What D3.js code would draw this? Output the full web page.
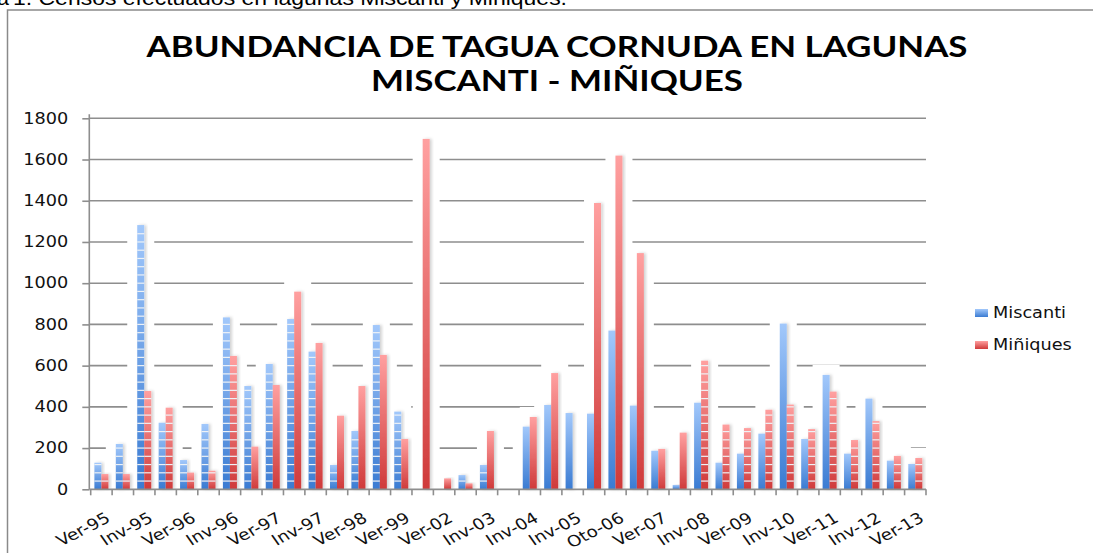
<!DOCTYPE html>
<html>
<head>
<meta charset="utf-8">
<script src="https://cdn.jsdelivr.net/npm/d3@7"></script>
<style>
    body { margin: 0; background: #fff; }
    svg { display: block; }
</style>
</head>
<body>
<div id="chart"></div>
<script>
// categories (only every other one gets a label on the axis)
const categories = ["Ver-95", "Oto-95", "Inv-95", "Pri-95", "Ver-96", "Oto-96", "Inv-96", "Pri-96",
    "Ver-97", "Oto-97", "Inv-97", "Pri-97", "Ver-98", "Inv-98", "Ver-99", "Inv-99", "Ver-02", "Inv-02",
    "Inv-03", "Ver-04", "Inv-04", "Ver-05", "Inv-05", "Ver-06", "Oto-06", "Inv-06", "Ver-07", "Inv-07",
    "Inv-08", "Pri-08", "Ver-09", "Inv-09", "Inv-10", "Pri-10", "Ver-11", "Inv-11", "Inv-12", "Pri-12", "Ver-13"];

const miscanti = [129, 220, 1282, 323, 142, 317, 834, 501, 608, 826, 668, 118, 283, 797, 377, 0, 0, 69,
    118, 0, 304, 409, 370, 367, 770, 406, 187, 21, 420, 129, 173, 270, 804, 244, 555, 173, 440, 139, 123];

const miniques = [74, 74, 477, 396, 81, 90, 647, 207, 506, 959, 710, 357, 501, 652, 244, 1700, 53, 29,
    283, 0, 351, 564, 0, 1389, 1619, 1146, 196, 275, 624, 314, 297, 386, 411, 292, 474, 239, 331, 162, 152];

const seriesNames = ["Miscanti", "Miñiques"];
const yTicks = [0, 200, 400, 600, 800, 1000, 1200, 1400, 1600, 1800];

//set svg size
let w = 1093;
let h = 553;
let plotLeft = 90.7, plotRight = 926, plotTop = 118.3, plotBottom = 489.3;
// the original picture is a bit stretched sideways, so texts get widened
let stretch = 1.18;

let svg = d3.select("#chart")
            .append("svg")
            .attr("width", w)
            .attr("height", h);

let defs = svg.append("defs");

let grads = [["gradBlue", "#a2c8fb", "#3a7bd2"], ["gradRed", "#ffa0a0", "#cf3a3a"]];
grads.forEach(g => {
    let lg = defs.append("linearGradient")
                .attr("id", g[0])
                .attr("x1", 0).attr("y1", 0)
                .attr("x2", 0).attr("y2", 1);
    lg.append("stop").attr("offset", "0%").attr("stop-color", g[1]);
    lg.append("stop").attr("offset", "100%").attr("stop-color", g[2]);
});

let shadow = defs.append("filter")
                .attr("id", "barShadow")
                .attr("x", "-50%").attr("y", "-10%")
                .attr("width", "200%").attr("height", "120%");
shadow.append("feDropShadow")
        .attr("dx", 2).attr("dy", 0)
        .attr("stdDeviation", 1.5)
        .attr("flood-color", "#000")
        .attr("flood-opacity", 0.18);

// caption line cut at the top of the picture
svg.append("text")
    .attr("x", 9)
    .attr("y", 5)
    .attr("text-anchor", "end")
    .style("font-family", "Liberation Sans, Arial, sans-serif")
    .style("font-size", "21px")
    .text("Figura");
svg.append("text")
    .attr("x", 13)
    .attr("y", 5)
    .attr("textLength", 554)
    .attr("lengthAdjust", "spacingAndGlyphs")
    .style("font-family", "Liberation Sans, Arial, sans-serif")
    .style("font-size", "21px")
    .text("1. Censos efectuados en lagunas Miscanti y Miñiques.");

// chart frame
svg.append("rect")
    .attr("x", 7.5)
    .attr("y", 10)
    .attr("width", 1200)
    .attr("height", 700)
    .attr("fill", "none")
    .attr("stroke", "#8a8a8a")
    .attr("stroke-width", 1.5);

//scales
let xScale = d3.scaleBand()
                .domain(categories)
                .range([plotLeft, plotRight]);

let xSub = d3.scaleBand()
                .domain(seriesNames)
                .range([3.7, xScale.bandwidth() - 3.7]);

let yScale = d3.scaleLinear()
                .domain([0, 1800])
                .range([plotBottom, plotTop]);

let color = d3.scaleOrdinal()
                .domain(seriesNames)
                .range(["url(#gradBlue)", "url(#gradRed)"]);

//gridlines
svg.append("g")
    .selectAll("line")
    .data(yTicks.slice(1))
    .enter()
    .append("line")
    .attr("x1", plotLeft - 1.4)
    .attr("x2", plotRight)
    .attr("y1", d => yScale(d))
    .attr("y2", d => yScale(d))
    .attr("stroke", "#8e8e8e")
    .attr("stroke-width", 1.6);

let bars = [];
categories.forEach((c, i) => {
    bars.push({cat: c, name: seriesNames[0], value: miscanti[i], striped: i <= 18});
    bars.push({cat: c, name: seriesNames[1], value: miniques[i], striped: i <= 6 || i >= 28});
});
bars = bars.filter(d => d.value > 0);

// white glow around bars cuts the gridlines
svg.append("g")
    .selectAll("rect")
    .data(bars)
    .enter()
    .append("rect")
    .attr("x", d => xScale(d.cat) + xSub(d.name) - 10)
    .attr("y", d => yScale(d.value) - 10)
    .attr("width", xSub.bandwidth() + 20)
    .attr("height", d => plotBottom - yScale(d.value) + 10)
    .attr("fill", "#fff");

//bars
svg.append("g")
    .selectAll("rect")
    .data(bars)
    .enter()
    .append("rect")
    .attr("x", d => xScale(d.cat) + xSub(d.name))
    .attr("y", d => yScale(d.value))
    .attr("width", xSub.bandwidth())
    .attr("height", d => plotBottom - yScale(d.value))
    .attr("fill", d => color(d.name))
    .attr("filter", "url(#barShadow)");

// white stripes on some of the bars
let stripes = [];
bars.filter(d => d.striped).forEach(d => {
    for (let v = 40; v < d.value - 8; v += 40) {
        stripes.push({cat: d.cat, name: d.name, v: v});
    }
});
svg.append("g")
    .selectAll("line")
    .data(stripes)
    .enter()
    .append("line")
    .attr("x1", d => xScale(d.cat) + xSub(d.name))
    .attr("x2", d => xScale(d.cat) + xSub(d.name) + xSub.bandwidth())
    .attr("y1", d => yScale(d.v))
    .attr("y2", d => yScale(d.v))
    .attr("stroke", "#eef2f6")
    .attr("stroke-width", 1.2);

//y axis
let yAxis = d3.axisLeft(yScale)
                .tickValues(yTicks)
                .tickSize(7)
                .tickPadding(14)
                .tickFormat(d3.format("d"));

let gy = svg.append("g")
            .attr("transform", `translate(${plotLeft - 1.4}, 0)`)
            .call(yAxis);
gy.select(".domain").attr("stroke", "#8e8e8e").attr("stroke-width", 1.6)
    .attr("d", `M0,${plotTop - 4}V${plotBottom}`);
gy.selectAll(".tick line").attr("stroke", "#8e8e8e").attr("stroke-width", 1.6);
gy.selectAll("text")
    .attr("x", -21 / stretch)
    .attr("transform", `scale(${stretch}, 1)`)
    .style("font-family", "DejaVu Sans, sans-serif")
    .style("font-size", "15px")
    .attr("fill", "#111");

//x axis line and boundary ticks
svg.append("line")
    .attr("x1", plotLeft - 1.4)
    .attr("x2", plotRight)
    .attr("y1", plotBottom)
    .attr("y2", plotBottom)
    .attr("stroke", "#8e8e8e")
    .attr("stroke-width", 1.8);

let bounds = categories.map(c => xScale(c)).concat([plotRight]);
svg.append("g")
    .selectAll("line")
    .data(bounds)
    .enter()
    .append("line")
    .attr("x1", d => d)
    .attr("x2", d => d)
    .attr("y1", plotBottom)
    .attr("y2", plotBottom + 6)
    .attr("stroke", "#8e8e8e")
    .attr("stroke-width", 1.6);

// x labels, every other category
svg.append("g")
    .selectAll("text")
    .data(categories.filter((c, i) => i % 2 === 0))
    .enter()
    .append("text")
    .attr("transform", d => `translate(${xScale(d) + xScale.bandwidth() / 2 + 10}, 521) scale(${stretch}, 1) rotate(-31)`)
    .attr("text-anchor", "end")
    .style("font-family", "DejaVu Sans, sans-serif")
    .style("font-size", "15.5px")
    .attr("fill", "#111")
    .text(d => d);

//legend
let legend = svg.selectAll(".legend")
                .data(seriesNames)
                .enter()
                .append("g")
                .attr("class", "legend")
                .attr("transform", (d, i) => `translate(975, ${309 + i * 32})`);

legend.append("rect")
        .attr("width", 13)
        .attr("height", 8)
        .style("fill", color);

legend.append("text")
        .attr("transform", `translate(18, 4) scale(${stretch}, 1)`)
        .attr("dy", ".35em")
        .style("font-family", "DejaVu Sans, sans-serif")
        .style("font-size", "15px")
        .attr("fill", "#111")
        .text(d => d);

//title
let titleLines = [["ABUNDANCIA DE TAGUA CORNUDA EN LAGUNAS", 57, 821], ["MISCANTI - MIÑIQUES", 91, 372]];
svg.selectAll(".title")
    .data(titleLines)
    .enter()
    .append("text")
    .attr("class", "title")
    .attr("x", d => 557 - d[2] / 2)
    .attr("y", d => d[1])
    .attr("textLength", d => d[2])
    .attr("lengthAdjust", "spacingAndGlyphs")
    .style("font-family", "Lato, sans-serif")
    .style("font-weight", "bold")
    .style("font-size", "29px")
    .attr("fill", "#000")
    .text(d => d[0]);
</script>
</body>
</html>
